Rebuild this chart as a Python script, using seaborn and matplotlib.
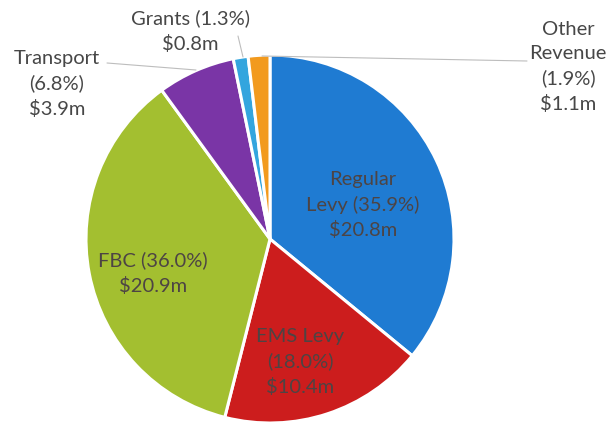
import matplotlib
matplotlib.use("Agg")
import matplotlib.pyplot as plt
import seaborn as sns

# Revenue sources, clockwise from 12 o'clock
categories = ["Regular Levy", "EMS Levy", "FBC", "Transport", "Grants", "Other Revenue"]
percents = [35.9, 18.0, 36.0, 6.8, 1.3, 1.9]
amounts = [20.8, 10.4, 20.9, 3.9, 0.8, 1.1]
colors = ["#1f7bd2", "#cc1d1d", "#a3bf30", "#7a35a6", "#33a5de", "#f29a1e"]

sns.set_theme(style="white")
plt.rcParams["font.family"] = ["Lato", "DejaVu Sans"]

W, H = 607, 424
fig = plt.figure(figsize=(W / 100, H / 100), dpi=100)
ax = fig.add_axes([0, 0, 1, 1])

# pixel geometry of the pie
cx, cy, R = 270, 239, 184


def to_data(px, py):
    return (px - cx) / R, (cy - py) / R


wedges, _ = ax.pie(
    percents,
    colors=sns.color_palette(colors),
    startangle=90,
    counterclock=False,
    radius=1.0,
    center=(0, 0),
    wedgeprops=dict(edgecolor="white", linewidth=2.2),
)
ax.set_xlim(-cx / R, (W - cx) / R)
ax.set_ylim(-(H - cy) / R, cy / R)
ax.set_aspect("equal")
ax.axis("off")


def fmt(i, template):
    return template.format(name=categories[i], p=percents[i], a=amounts[i])


inside_col = "#4d4444"
outside_col = "#474747"
fs = 14.5
ls = 1.52

# labels drawn inside the large wedges
inside = [
    (0, "Regular\nLevy ({p:.1f}%)\n${a:.1f}m", (363, 205)),
    (1, "EMS Levy\n({p:.1f}%)\n${a:.1f}m", (300, 362)),
    (2, "FBC ({p:.1f}%)\n${a:.1f}m", (153, 273)),
]
for i, tpl, (px, py) in inside:
    x, y = to_data(px, py)
    ax.text(x, y, fmt(i, tpl), ha="center", va="center", fontsize=fs,
            color=inside_col, linespacing=ls)

# outside labels with leader lines
outside = [
    (3, "Transport\n({p:.1f}%)\n${a:.1f}m", (57, 84), (107, 63), (196, 70)),
    (4, "{name} ({p:.1f}%)\n${a:.1f}m", (190, 31), (238, 36), (243, 57)),
    (5, "Other\nRevenue\n({p:.1f}%)\n${a:.1f}m", (568, 67), (527, 61), (262, 56)),
]
for i, tpl, (px, py), start, end in outside:
    x, y = to_data(px, py)
    ax.text(x, y, fmt(i, tpl), ha="center", va="center", fontsize=fs,
            color=outside_col, linespacing=ls)
    x0, y0 = to_data(*start)
    x1, y1 = to_data(*end)
    ax.plot([x0, x1], [y0, y1], color="#bdbdbd", linewidth=0.8)

fig.savefig("out.png", dpi=100)
